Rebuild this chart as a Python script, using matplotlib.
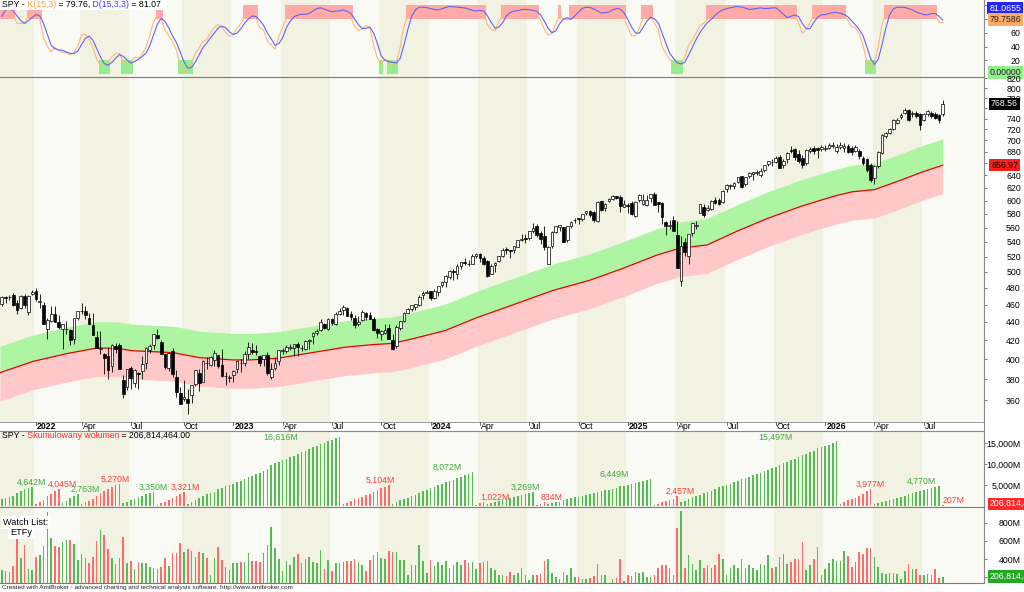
import numpy as np
import pandas as pd
import matplotlib
matplotlib.use("Agg")
import matplotlib.pyplot as plt
from matplotlib.patches import Rectangle
from matplotlib.lines import Line2D
from matplotlib.text import Annotation
from matplotlib.ticker import NullLocator, FuncFormatter
from matplotlib.transforms import blended_transform_factory

plt.rcParams['font.family'] = ['Liberation Sans', 'DejaVu Sans']

# ---------------- data (weekly SPY bars) ----------------
first_friday = "2021-11-05"

opens = [460.3, 469.3, 469.0, 470.9, 462.0, 456.1, 470.2, 451.0, 472.1, 476.3,
         462.7, 459.7, 432.0, 441.2, 449.5, 439.9, 431.9, 432.0, 431.6, 420.9,
         444.3, 452.1, 453.1, 444.1, 436.8, 423.7, 411.1, 405.1, 403.5, 392.8,
         413.6, 414.8, 379.8, 372.9, 391.0, 376.6, 385.9, 388.4, 395.8, 409.2,
         415.3, 425.5, 417.9, 405.5, 390.8, 408.8, 382.3, 367.0, 361.1, 361.0,
         365.0, 375.3, 386.4, 377.7, 396.7, 394.6, 399.1, 403.9, 394.3, 383.5,
         381.6, 384.4, 390.4, 396.7, 396.7, 405.2, 409.8, 408.7, 403.1, 399.9,
         404.9, 381.8, 390.8, 398.1, 408.9, 409.0, 411.8, 412.0, 415.5, 412.0,
         411.1, 418.6, 424.1, 427.7, 430.9, 437.5, 432.6, 442.9, 438.2, 449.1,
         453.4, 456.3, 448.7, 444.7, 437.6, 442.2, 450.7, 448.4, 443.0, 432.5,
         426.6, 427.6, 433.8, 420.0, 413.6, 433.1, 440.7, 450.5, 454.7, 457.5,
         459.7, 472.0, 473.9, 476.3, 467.5, 475.3, 484.0, 487.8, 493.7, 501.2,
         497.7, 508.3, 512.0, 510.5, 510.5, 521.2, 523.8, 518.7, 514.4, 497.8,
         509.6, 513.7, 521.1, 529.6, 529.3, 529.0, 533.2, 542.1, 544.3, 545.6,
         555.4, 562.0, 552.4, 548.8, 510.3, 534.3, 553.3, 560.5, 560.5, 542.0,
         561.7, 570.5, 573.4, 572.0, 581.3, 584.1, 582.6, 569.8, 599.8, 588.2,
         599.5, 603.0, 607.7, 606.4, 590.5, 592.2, 596.3, 576.9, 600.7, 594.8,
         592.7, 604.0, 610.9, 597.3, 596.2, 567.6, 562.8, 570.7, 549.8, 489.2,
         540.0, 520.3, 552.1, 562.9, 581.5, 590.0, 586.1, 587.8, 600.8, 600.7,
         597.3, 617.4, 623.4, 623.2, 629.1, 639.6, 626.3, 638.9, 642.9, 643.3,
         640.0, 648.6, 658.5, 662.9, 662.0, 671.0, 658.0, 667.0, 683.0, 685.0,
         676.0, 670.0, 660.0, 682.0, 686.0, 686.0, 684.0, 685.0, 686.0, 690.0,
         681.0, 688.0, 686.0, 690.0, 686.0, 682.0, 681.0, 669.0, 667.0, 658.0,
         636.0, 655.0, 678.0, 707.0, 714.0, 720.0, 732.0, 744.0, 750.0, 756.0,
         749.0, 751.0, 748.0, 738.0, 748.0, 751.0, 748.0, 746.0, 748.0]

highs = [470.7, 470.2, 470.9, 473.5, 465.0, 470.9, 472.9, 471.0, 477.5, 480.0,
         473.2, 463.0, 444.0, 458.1, 457.9, 448.1, 438.0, 441.1, 432.3, 444.9,
         452.9, 462.1, 457.8, 450.6, 450.0, 430.0, 429.7, 406.4, 412.8, 415.4,
         417.4, 416.5, 383.9, 390.1, 393.2, 390.4, 386.9, 403.1, 413.0, 415.7,
         427.2, 431.7, 420.0, 405.8, 407.5, 411.7, 389.3, 372.3, 379.5, 370.7,
         374.8, 389.5, 390.4, 398.8, 402.3, 402.9, 410.0, 404.9, 410.5, 387.4,
         384.3, 389.3, 399.1, 400.2, 408.2, 418.3, 416.5, 415.0, 404.2, 404.5,
         407.5, 396.5, 402.5, 409.7, 411.9, 415.1, 415.9, 416.0, 417.6, 414.5,
         420.7, 420.8, 428.7, 432.0, 443.9, 438.4, 444.3, 444.1, 451.4, 456.4,
         459.4, 457.3, 452.1, 448.1, 446.6, 453.7, 451.1, 451.1, 445.4, 432.8,
         431.1, 438.1, 438.1, 426.5, 436.3, 441.1, 451.4, 456.4, 459.7, 461.0,
         472.0, 475.9, 477.6, 476.4, 478.6, 482.7, 488.8, 496.0, 502.0, 503.5,
         510.0, 513.3, 518.2, 515.8, 524.1, 524.6, 524.4, 520.2, 515.3, 509.9,
         512.3, 521.0, 531.5, 533.1, 529.5, 535.0, 543.0, 550.3, 550.3, 555.0,
         567.0, 565.2, 555.0, 562.7, 534.3, 555.2, 562.6, 564.4, 560.8, 563.0,
         570.3, 574.7, 574.1, 580.3, 585.1, 586.2, 584.5, 599.6, 600.2, 596.2,
         603.4, 608.0, 607.9, 609.1, 601.3, 596.6, 599.4, 599.4, 610.8, 610.0,
         609.0, 610.7, 613.2, 598.0, 597.3, 569.7, 571.0, 577.0, 569.1, 548.6,
         545.3, 551.0, 567.0, 570.2, 594.5, 595.5, 592.9, 600.3, 605.0, 604.4,
         616.4, 626.3, 626.9, 628.6, 637.6, 639.8, 637.9, 646.2, 646.3, 649.5,
         652.2, 658.0, 664.6, 666.8, 672.7, 673.9, 667.0, 678.8, 689.7, 686.5,
         683.0, 675.0, 684.0, 688.0, 690.0, 688.0, 692.0, 692.0, 695.0, 697.0,
         693.0, 697.0, 695.0, 694.0, 690.0, 692.0, 684.0, 672.0, 670.0, 660.0,
         657.0, 682.0, 712.0, 716.0, 722.0, 740.0, 742.0, 750.0, 760.0, 758.0,
         754.0, 755.0, 751.0, 750.0, 757.0, 755.0, 752.0, 749.0, 777.0]

lows = [458.2, 462.0, 465.7, 457.8, 448.9, 455.3, 456.4, 448.3, 472.0, 464.7,
        456.6, 437.8, 420.8, 439.8, 439.9, 431.8, 410.6, 427.1, 415.1, 415.8,
        441.7, 449.1, 443.1, 437.7, 425.4, 411.2, 405.0, 385.2, 380.5, 387.0,
        406.9, 389.8, 362.2, 370.2, 371.0, 372.4, 371.0, 380.7, 390.0, 406.2,
        410.4, 421.4, 405.3, 390.0, 388.4, 382.1, 363.3, 357.0, 359.2, 348.1,
        357.7, 373.1, 368.8, 377.6, 390.0, 392.7, 393.3, 391.6, 381.9, 374.8,
        377.8, 377.8, 386.3, 387.3, 393.6, 400.3, 405.0, 404.1, 393.6, 393.6,
        384.3, 380.7, 389.4, 393.7, 405.7, 406.0, 409.2, 403.8, 403.7, 408.9,
        409.9, 410.3, 416.2, 425.8, 430.2, 432.5, 431.2, 437.1, 437.1, 448.2,
        448.1, 446.3, 442.4, 433.0, 435.0, 441.0, 442.8, 443.0, 430.0, 422.3,
        420.2, 427.1, 421.1, 409.2, 411.4, 431.3, 439.7, 450.0, 452.5, 453.5,
        458.8, 466.3, 473.3, 465.0, 466.4, 469.9, 481.5, 481.1, 490.7, 490.2,
        490.7, 504.4, 509.5, 507.6, 509.7, 518.4, 512.3, 509.1, 493.9, 497.0,
        499.9, 512.9, 519.6, 523.8, 518.2, 524.7, 532.6, 541.3, 539.1, 543.0,
        552.0, 547.1, 537.5, 529.1, 510.3, 532.3, 552.4, 555.9, 539.4, 539.4,
        559.1, 566.9, 565.3, 570.3, 578.4, 575.8, 568.3, 567.9, 584.2, 584.6,
        597.3, 601.3, 602.9, 582.4, 589.7, 580.9, 577.9, 575.4, 598.7, 593.0,
        592.3, 598.4, 594.0, 582.4, 565.6, 549.7, 558.0, 555.3, 505.1, 481.8,
        520.9, 510.0, 547.8, 558.0, 580.9, 575.6, 584.5, 585.2, 595.4, 593.0,
        597.2, 614.1, 617.5, 617.9, 627.9, 619.3, 623.4, 635.1, 632.8, 641.0,
        637.4, 646.4, 656.2, 655.1, 660.0, 652.8, 652.0, 660.0, 678.0, 665.6,
        661.0, 652.0, 658.0, 678.0, 676.0, 670.0, 682.0, 681.0, 684.0, 687.0,
        677.0, 685.0, 680.0, 677.0, 675.0, 679.0, 668.0, 657.0, 645.0, 630.0,
        626.0, 652.0, 676.0, 704.0, 711.0, 718.0, 730.0, 740.0, 748.0, 735.0,
        744.0, 742.0, 719.0, 735.0, 745.0, 742.0, 739.0, 732.0, 745.0]

closes = [468.9, 467.3, 468.9, 459.0, 453.4, 470.7, 459.9, 470.6, 475.0, 466.1,
          464.7, 438.0, 442.0, 448.7, 440.5, 434.2, 437.8, 432.2, 420.1, 444.5,
          452.7, 452.9, 447.6, 437.8, 426.0, 412.0, 411.3, 401.7, 389.6, 415.3,
          410.5, 389.8, 365.9, 390.1, 381.2, 388.7, 385.1, 395.1, 412.0, 413.5,
          427.1, 422.1, 405.3, 392.2, 406.6, 385.6, 368.0, 357.2, 362.8, 357.6,
          374.3, 389.0, 376.4, 398.5, 396.0, 402.3, 406.9, 393.3, 383.3, 382.9,
          382.4, 388.1, 398.5, 395.9, 405.7, 412.4, 408.0, 407.3, 396.4, 404.2,
          385.9, 390.0, 395.8, 409.4, 409.2, 412.5, 412.2, 415.9, 412.6, 411.6,
          418.6, 420.0, 427.9, 429.9, 439.5, 433.2, 443.3, 438.6, 449.3, 452.2,
          456.9, 446.8, 445.7, 436.5, 440.0, 451.2, 445.5, 443.4, 431.4, 427.5,
          429.5, 431.5, 421.2, 410.7, 434.7, 440.6, 450.8, 455.3, 459.1, 460.2,
          469.3, 473.7, 475.3, 467.9, 476.7, 482.4, 487.4, 494.4, 501.2, 499.5,
          507.9, 512.9, 511.7, 509.8, 521.2, 523.1, 518.4, 510.9, 495.2, 508.3,
          511.3, 520.8, 529.5, 529.4, 527.4, 534.0, 542.8, 544.5, 544.2, 554.6,
          560.0, 549.0, 544.4, 532.9, 533.0, 554.3, 562.1, 563.7, 540.4, 562.0,
          568.3, 571.5, 573.0, 579.6, 584.6, 579.0, 571.0, 598.2, 585.8, 595.5,
          602.6, 607.8, 604.2, 591.2, 595.0, 592.0, 580.5, 597.6, 608.0, 601.8,
          600.8, 609.7, 594.0, 594.2, 575.9, 562.8, 564.0, 555.7, 505.3, 533.9,
          526.4, 550.6, 566.8, 564.3, 594.2, 579.1, 589.4, 599.1, 597.0, 594.3,
          614.9, 625.3, 623.6, 627.6, 637.1, 621.7, 637.2, 643.4, 645.3, 645.1,
          647.2, 657.4, 663.7, 661.8, 669.2, 653.0, 664.4, 677.3, 682.1, 671.0,
          664.0, 658.0, 683.0, 685.0, 681.0, 683.0, 689.0, 687.0, 692.0, 692.5,
          689.0, 692.0, 690.0, 680.0, 679.0, 688.0, 672.0, 661.0, 649.0, 633.0,
          655.0, 680.0, 710.0, 713.0, 720.0, 738.0, 738.0, 746.0, 756.0, 738.0,
          750.0, 745.0, 729.0, 748.0, 754.0, 745.0, 742.0, 738.0, 768.56]

volumes_m = [278, 272, 260, 322, 630, 407, 555, 296, 285,
             418, 450, 544, 915, 630, 544, 530,
             592, 615, 611, 563, 389,
             455, 407, 352, 426, 604, 722, 667, 507, 407, 341, 407,
             648, 352, 381, 296, 367, 355, 355, 315, 304,
             296, 315, 407, 322, 470, 470, 574, 481,
             507, 489, 426, 481, 463, 407, 222, 407, 537, 389, 315, 278, 352, 355,
             367, 367, 463, 381, 381, 367, 463, 555, 759, 526, 396, 272, 378, 333,
             426, 455, 352, 396, 426, 367, 355, 500, 296, 389, 270, 359, 352,
             367, 378, 378, 396, 367, 333, 272, 389, 444, 481, 407, 396, 489,
             481, 474,
             390, 390, 230, 340, 330, 560, 380, 250, 390, 320, 370, 330, 380, 300,
             340, 370, 330, 390, 360, 367,
             290, 360, 372,
             379, 300, 280, 220, 230, 210, 260, 220, 250, 300, 230, 170, 220,
             220, 234, 380,
             400, 250, 200, 180, 260, 230, 300, 200, 200, 180, 180, 190, 210, 349,
             230, 220, 140, 180, 190, 400, 160, 220, 210, 260, 250, 260, 200, 200,
             230, 300, 330, 330, 300, 220, 747,
             930, 300, 450, 350, 280, 390, 300, 330, 300, 330, 460, 400, 220, 300,
             330, 300, 400, 300, 330, 300, 280, 350, 330, 442, 300, 310, 420,
             456, 345, 370, 396, 400, 585, 285, 333, 400, 537, 222, 296, 359, 400, 381,
             381, 493, 437, 310, 370, 478, 456, 526, 526,
             426, 315, 248, 241, 252, 252, 233, 180, 270, 345, 296, 296, 230, 230,
             241, 230, 296, 189,
             206.814464]

# bars before the visible window, only needed to warm up the 15-week stochastic
warmup_high = [442.9, 445.9, 447.1, 450.7, 454.0, 454.1, 448.4, 448.7, 444.9, 441.7, 446.3, 454.7, 459.6]
warmup_low = [436.0, 441.3, 436.1, 443.4, 450.1, 445.3, 441.0, 428.9, 427.2, 426.4, 431.0, 446.0, 452.4]
warmup_close = [442.5, 445.9, 443.4, 450.3, 453.1, 445.4, 441.4, 443.9, 434.2, 437.9, 445.9, 453.1, 459.3]

# long moving average (red line) read at several weeks, envelope +/- 7 %
ma_week = [-0.5, 8.3, 17.1, 25, 30.3, 34.6, 39, 45.2, 52.2, 60.9, 65.4, 72.8, 81.7, 90.4,
           97.6, 102.8, 108.1, 116.8, 125.5, 130, 145.3, 155, 163.7, 172.7, 178.7, 185.9,
           193.8, 201.9, 210.9, 219.6, 224.1, 230.1, 237.3, 242.5, 248]
ma_value = [386.5, 397.9, 405.8, 411.7, 411.3, 408.8, 408.0, 406.8, 401.6, 399.3, 399.3,
            401.1, 406.8, 412.5, 415.2, 416.5, 421.3, 430.4, 445.4, 452.3, 477.0, 489.6,
            504.6, 522.2, 531.3, 535.8, 555.0, 573.6, 591.9, 607.4, 613.7, 617.3, 633.1,
            645.4, 656.97]
band_pct = 0.07

# cumulative-volume waves (first bar of each wave) and their labels
seg_starts = [0, 9, 16, 21, 32, 41, 49, 90, 103, 125, 128, 141, 144, 172, 179, 221, 230, 248]
seg_labels = ["4,642M", "4,045M", "2,763M", "5,270M", "3,350M", "3,321M", "16,616M", "5,104M",
              "8,072M", "1,022M", "3,269M", "834M", "6,449M", "2,457M", "15,497M", "3,977M",
              "4,770M", "207M"]
cum_carry_m = 1337   # volume already accumulated in the first wave before the window

k_last, d_last = 79.7586, 81.0655
k_title, d_title = "79.76", "81.07"
cum_title = "206,814,464.00"
last_vol_text = "206,814,464"
ma_last_text = "656.97"

# ---------------- figure ----------------
W, H = 1024, 592
PR = 984.0
XPX0, XSTEP = 1.85, 3.794


def fx(px):
    return px / W


def fy(py):
    return 1 - py / H


fig = plt.figure(figsize=(W / 100, H / 100), dpi=100)
fig.patch.set_facecolor('white')


def add_ax(top, bot):
    return fig.add_axes([0, fy(bot), fx(PR), (bot - top) / H])


ax_st = add_ax(0, 76.5)
ax_pr = add_ax(76.5, 430.5)
ax_cv = add_ax(430.5, 507.3)
ax_vo = add_ax(507.3, 583.3)
axes = [ax_st, ax_pr, ax_cv, ax_vo]

n = len(closes)
idx = np.arange(n)
xlim = ((0 - XPX0) / XSTEP, (PR - XPX0) / XSTEP)
dates = pd.date_range(first_friday, periods=n, freq='W-FRI')

DARK, LIGHT = '#f2f2e3', '#fafaf4'
GREEN_BAR, RED_BAR = '#55bb55', '#ff6b6b'
FS = 6.3

for ax in axes:
    ax.set_xlim(*xlim)
    ax.set_xticks([])
    ax.set_facecolor('white')
    for s in ['left', 'top', 'bottom']:
        ax.spines[s].set_visible(False)
    ax.spines['right'].set_color('#8a8a8a')
    ax.spines['right'].set_linewidth(0.8)
    ax.yaxis.tick_right()
    ax.tick_params(axis='y', length=2, width=0.6, color='#666666', labelcolor='black',
                   labelsize=FS, pad=24.5)
    ax.tick_params(axis='x', bottom=False, labelbottom=False)

# quarter background shading
qid = np.array(dates.year * 4 + (dates.month - 1) // 3)
bounds = [0] + [i for i in range(1, n) if qid[i] != qid[i - 1]]
for k, b in enumerate(bounds):
    left = xlim[0] if k == 0 else b - 0.5
    right = bounds[k + 1] - 0.5 if k + 1 < len(bounds) else xlim[1]
    col = DARK if qid[b] % 2 == 1 else LIGHT
    for ax in axes:
        ax.axvspan(left, right, color=col, lw=0, zorder=0)

o, h, l, c = map(np.array, (opens, highs, lows, closes))
up = c >= o
vol = np.array(volumes_m, dtype=float)

# ---------------- stochastic panel ----------------
hi_all = pd.Series(warmup_high + highs)
lo_all = pd.Series(warmup_low + lows)
cl_all = pd.Series(warmup_close + closes)
hh = hi_all.rolling(15, min_periods=1).max()
ll = lo_all.rolling(15, min_periods=1).min()
raw = 100 * (cl_all - ll) / (hh - ll)
k_full = raw.rolling(3, min_periods=1).mean()
d_full = k_full.rolling(3, min_periods=1).mean()
nw = len(warmup_close)
k_line = k_full.to_numpy()[nw:]
d_line = d_full.to_numpy()[nw:]

ob = k_line > 80
os_ = k_line < 20
ax_st.bar(idx[ob], 20, bottom=80, width=1.0, color='#ffa9a9', lw=0, zorder=1)
ax_st.bar(idx[os_], 20, bottom=0, width=1.0, color='#93ee8f', lw=0, zorder=1)
ax_st.plot(idx, k_line, color='#ffb776', lw=0.8, zorder=3)
ax_st.plot(idx, d_line, color='#6262ff', lw=0.8, zorder=4)
ax_st.set_ylim(-3.4, 108)
ax_st.set_yticks([20, 40, 60, 80, 100])
ax_st.set_yticklabels(['20', '40', '60', '', ''])   # 80 / 100 sit under the value boxes

# ---------------- price panel ----------------
ma = np.array(ma_value)
ax_pr.fill_between(ma_week, ma, ma * (1 + band_pct), color='#adf5a3', lw=0, zorder=1)
ax_pr.fill_between(ma_week, ma * (1 - band_pct), ma, color='#ffc8c8', lw=0, zorder=1)
ax_pr.plot(ma_week, ma, color='#e60000', lw=0.9, zorder=2)

ax_pr.vlines(idx, l, h, color='black', lw=0.6, zorder=3)
body_lo = np.minimum(o, c)
body_hi = np.maximum(o, c)
body_h = np.maximum(body_hi - body_lo, body_lo * 0.0012)
ax_pr.bar(idx[up], body_h[up], bottom=body_lo[up], width=0.72, facecolor='white',
          edgecolor='black', lw=0.5, zorder=4)
ax_pr.bar(idx[~up], body_h[~up], bottom=body_lo[~up], width=0.72, facecolor='black',
          edgecolor='black', lw=0.5, zorder=4)

ax_pr.set_yscale('log')
ax_pr.set_ylim(333.4, 824.2)
ax_pr.yaxis.set_minor_locator(NullLocator())
price_ticks = list(range(360, 821, 20))
ax_pr.set_yticks(price_ticks)
ax_pr.set_yticklabels(['' if v in (660, 760) else str(v) for v in price_ticks])

# date strip
pan_h = 430.5 - 76.5
strip_top = (430.5 - 421.5) / pan_h
ax_pr.add_patch(Rectangle((0, 0), 1, strip_top, transform=ax_pr.transAxes,
                          facecolor='white', edgecolor='none', zorder=6))
ax_pr.plot([0, 1], [strip_top, strip_top], transform=ax_pr.transAxes, color='#9a9a9a',
           lw=0.7, zorder=7, clip_on=False)
btr = blended_transform_factory(ax_pr.transData, ax_pr.transAxes)
month_abbr = {4: 'Apr', 7: 'Jul', 10: 'Oct'}
for i in range(1, n):
    m = dates[i].month
    if m != dates[i - 1].month and m in (1, 4, 7, 10):
        is_year = m == 1
        lab = str(dates[i].year) if is_year else month_abbr[m]
        ax_pr.text(i + 0.3, (430.5 - 426.2) / pan_h, lab, transform=btr, fontsize=FS,
                   fontweight='bold' if is_year else 'normal', ha='left', va='center',
                   zorder=8, color='black')
        ax_pr.plot([i, i], [strip_top, strip_top - 3 / pan_h], transform=btr,
                   color='#555555', lw=0.6, zorder=8)

# ---------------- cumulative volume panel ----------------
seg_id = np.searchsorted(seg_starts, idx, side='right') - 1
cum = np.zeros(n)
for s in range(len(seg_starts)):
    msk = seg_id == s
    cum[msk] = np.cumsum(vol[msk]) + (cum_carry_m if s == 0 else 0)
cum_cols = np.where(seg_id % 2 == 0, GREEN_BAR, RED_BAR)
ax_cv.bar(idx, cum, width=0.42, color=cum_cols, lw=0, zorder=2)
ax_cv.set_ylim(-362, 18116)
ax_cv.set_yticks([5000, 10000, 15000])
ax_cv.yaxis.set_major_formatter(FuncFormatter(lambda v, p: f'{v:,.0f}M'))
for s, lab in enumerate(seg_labels):
    start = seg_starts[s]
    end = seg_starts[s + 1] - 1 if s + 1 < len(seg_starts) else n - 1
    top = cum[start:end + 1].max()
    ax_cv.text((start + end) / 2, min(top, 15300), lab, fontsize=FS, ha='left', va='bottom',
               color='#3fa83f' if s % 2 == 0 else '#ff3c3c', zorder=5)

# ---------------- volume panel ----------------
ax_vo.bar(idx, vol, width=0.42, color=np.where(up, GREEN_BAR, RED_BAR), lw=0, zorder=2)
ax_vo.set_ylim(133, 972)
ax_vo.set_yticks([200, 400, 600, 800])
ax_vo.set_yticklabels(['', '400M', '600M', '800M'])   # 200M sits under the value box

for ax in axes:
    plt.setp(ax.get_yticklabels(), ha='right')


# ---------------- value boxes on the right ----------------
def vbox(ax, yv, text, bg, fg, x_px, ha='right'):
    tr = blended_transform_factory(fig.transFigure, ax.transData)
    ax.text(fx(x_px), yv, text, transform=tr, ha=ha, va='center', fontsize=FS, color=fg,
            bbox=dict(boxstyle='square,pad=0.2', fc=bg, ec='none'), zorder=30, clip_on=False)


vbox(ax_st, 96.0, f'{d_last:.4f}', '#2424ff', 'white', 1021)
vbox(ax_st, k_last, f'{k_last:.4f}', '#ffab66', '#222222', 1021)
vbox(ax_st, 2.4, '0.00000', '#93ee8f', '#222222', 1021)
vbox(ax_pr, closes[-1], f'{closes[-1]:.2f}', 'black', 'white', 1018)
vbox(ax_pr, ma_value[-1], ma_last_text, '#ff1c1c', 'black', 1018)
vbox(ax_cv, 480, last_vol_text, '#ff2a2a', 'white', 990, ha='left')
vbox(ax_vo, vol[-1], last_vol_text, '#22a822', 'white', 990, ha='left')


# ---------------- titles ----------------
def color_text(x_px, y_px, parts):
    t = fig.text(fx(x_px), fy(y_px), parts[0][0], color=parts[0][1], fontsize=FS,
                 ha='left', va='center', zorder=21)
    for s, col in parts[1:]:
        a = Annotation(s, xy=(1, 0), xycoords=t, color=col, fontsize=FS, ha='left',
                       va='bottom', zorder=21)
        fig.add_artist(a)
        t = a


fig.add_artist(Rectangle((0, fy(9.5)), fx(167), 9.5 / H, transform=fig.transFigure,
                         facecolor='white', edgecolor='none', zorder=20))
color_text(2, 4.8, [("SPY -", 'black'), (" K(15,3)", '#ff9a3c'), (f" = {k_title},", 'black'),
                    (" D(15,3,3)", '#3c3cff'), (f" = {d_title}", 'black')])
color_text(2, 435.8, [("SPY -", 'black'), (" Skumulowany wolumen", '#ff3030'),
                      (f" = {cum_title}", 'black')])

fig.text(fx(3), fy(522.3), "Watch List:", fontsize=6.6, ha='left', va='center', zorder=21,
         bbox=dict(boxstyle='square,pad=0.25', fc='white', ec='none'))
fig.text(fx(10.5), fy(532.5), "ETFy", fontsize=6.6, ha='left', va='center', zorder=21,
         bbox=dict(boxstyle='square,pad=0.25', fc='white', ec='none'))

fig.text(fx(2), fy(588), "Created with AmiBroker - advanced charting and technical analysis "
         "software. http://www.amibroker.com", fontsize=4.6, ha='left', va='center',
         color='#222222')

# separators
for yy, col in [(76.5, '#7a7a7a'), (430.5, '#8a8a8a'), (507.3, '#7a7a7a'), (583.3, '#7a7a7a')]:
    fig.add_artist(Line2D([0, fx(PR)], [fy(yy), fy(yy)], transform=fig.transFigure,
                          color=col, lw=0.8, zorder=25))

fig.savefig('out.png', dpi=100, facecolor='white')
